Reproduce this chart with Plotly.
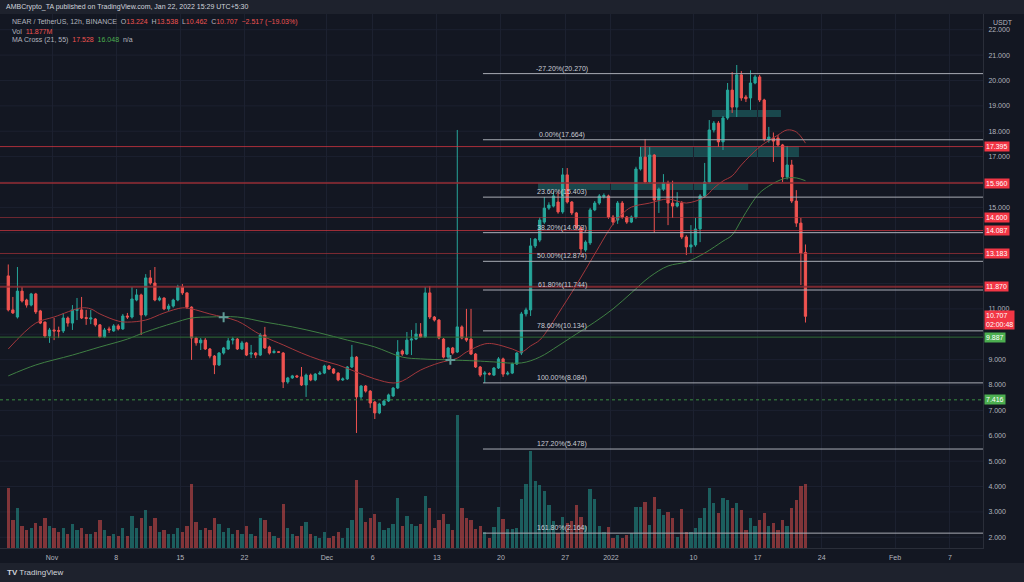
import pandas as pd
import plotly.graph_objects as go

# ---------------- data ----------------
candle_start = "2021-10-27 05:30"
candle_count = 175

opens = [12.30, 10.96, 10.68, 11.70, 11.35, 11.15, 11.59, 10.92, 10.48, 9.93,
         10.17, 10.15, 10.13, 10.64, 10.44, 10.94, 10.96, 10.66, 10.60, 10.60,
         10.37, 9.89, 10.21, 10.13, 10.33, 10.21, 10.72, 10.68, 11.35, 11.55,
         10.76, 12.22, 12.02, 11.35, 11.43, 11.00, 11.11, 11.35, 11.86, 11.63,
         11.07, 9.85, 9.66, 9.77, 9.42, 9.14, 8.79, 9.26, 9.42, 9.77,
         9.81, 9.42, 9.66, 9.22, 9.26, 9.18, 9.97, 9.50, 9.28, 9.31,
         9.26, 8.12, 8.28, 8.36, 8.32, 8.00, 8.39, 8.20, 8.43, 8.47,
         8.75, 8.63, 8.47, 8.20, 8.24, 8.71, 9.10, 7.53, 7.96, 7.76,
         7.33, 6.90, 7.21, 7.37, 7.57, 7.88, 9.34, 9.22, 9.77, 9.81,
         10.01, 9.89, 11.63, 10.68, 10.56, 9.81, 9.10, 9.46, 9.30, 10.29,
         9.85, 9.81, 9.22, 8.71, 8.43, 8.45, 8.39, 8.67, 9.03, 8.43,
         8.47, 8.83, 9.26, 10.80, 10.96, 13.48, 13.71, 14.42, 14.97, 15.05,
         15.21, 14.82, 16.28, 15.21, 14.78, 14.19, 13.32, 13.60, 14.90, 15.17,
         15.42, 15.45, 14.62, 14.50, 15.17, 14.62, 14.42, 14.62, 16.51, 16.98,
         16.00, 17.06, 15.29, 15.72, 15.96, 15.17, 15.05, 15.17, 13.83, 13.44,
         13.52, 14.15, 15.45, 16.00, 18.05, 18.32, 17.58, 18.52, 19.62, 18.95,
         20.22, 19.35, 19.31, 19.90, 20.14, 19.23, 17.65, 17.73, 17.73, 17.46,
         16.20, 16.67, 15.25, 14.38, 13.224]
highs = [12.75, 11.47, 12.65, 11.86, 11.40, 11.63, 11.63, 10.96, 10.50, 10.25,
         10.64, 10.30, 10.84, 10.70, 11.15, 11.43, 11.47, 10.96, 10.96, 10.64,
         10.40, 10.25, 10.30, 10.40, 10.40, 10.80, 10.84, 11.86, 11.78, 11.60,
         12.37, 12.53, 12.65, 11.50, 11.45, 11.20, 11.40, 11.95, 11.98, 11.65,
         11.10, 9.90, 9.85, 9.85, 9.46, 9.18, 9.30, 9.50, 9.85, 9.90,
         9.85, 9.74, 9.70, 9.58, 9.30, 10.05, 10.29, 9.55, 9.40, 9.34,
         9.30, 8.32, 8.40, 8.40, 8.71, 8.45, 8.45, 8.47, 8.55, 8.80,
         8.79, 8.67, 8.50, 8.30, 8.75, 9.58, 9.14, 8.00, 8.00, 7.80,
         7.37, 7.30, 7.42, 7.66, 7.92, 9.77, 9.40, 10.09, 10.17, 10.44,
         10.44, 11.86, 11.90, 10.72, 10.60, 9.85, 9.50, 9.50, 18.05, 10.35,
         11.00, 11.00, 9.26, 8.75, 8.55, 8.50, 8.71, 9.10, 9.08, 8.55,
         8.88, 9.30, 10.88, 11.05, 13.79, 13.79, 14.60, 15.41, 15.20, 15.64,
         15.60, 16.55, 16.55, 15.25, 14.82, 14.25, 13.70, 14.98, 15.25, 15.52,
         15.55, 15.50, 14.70, 15.25, 15.25, 14.66, 14.68, 16.60, 17.38, 17.69,
         17.38, 17.10, 15.78, 16.31, 16.05, 16.05, 15.60, 15.25, 13.90, 14.30,
         14.58, 15.52, 16.75, 18.44, 18.40, 18.40, 18.60, 19.90, 20.33, 20.61,
         20.37, 19.43, 20.40, 20.22, 20.22, 19.28, 18.17, 17.95, 17.85, 17.50,
         17.42, 16.87, 15.68, 14.58, 13.538]
lows = [10.90, 10.80, 10.62, 11.25, 11.05, 11.10, 10.80, 10.40, 9.85, 9.66,
        9.77, 9.85, 10.05, 10.30, 10.17, 10.56, 10.60, 10.37, 10.40, 10.30,
        9.85, 9.85, 10.05, 10.10, 10.15, 10.17, 10.60, 10.62, 11.30, 9.97,
        10.70, 11.95, 11.30, 11.30, 10.95, 10.92, 11.05, 11.30, 11.55, 11.00,
        8.99, 9.55, 9.38, 9.38, 9.05, 8.43, 8.75, 9.20, 9.38, 9.60,
        9.38, 9.38, 9.14, 9.06, 9.06, 9.14, 9.42, 9.20, 9.24, 9.26,
        7.88, 8.05, 8.24, 8.28, 7.96, 7.53, 8.15, 8.15, 8.40, 8.43,
        8.59, 8.43, 8.15, 8.16, 8.20, 8.67, 6.11, 7.45, 7.70, 7.10,
        6.66, 6.85, 7.18, 7.33, 7.53, 7.84, 9.15, 9.18, 9.18, 9.77,
        9.85, 9.85, 10.60, 10.50, 9.80, 9.05, 9.00, 9.20, 9.26, 9.80,
        9.70, 9.18, 8.67, 8.32, 8.08, 8.38, 8.36, 8.63, 8.32, 8.38,
        8.43, 8.79, 9.18, 10.70, 10.72, 13.40, 13.63, 14.35, 14.90, 15.00,
        14.75, 14.75, 15.15, 14.70, 14.10, 13.12, 13.25, 13.52, 14.85, 15.10,
        15.35, 14.55, 14.30, 14.35, 14.55, 14.35, 14.38, 14.55, 16.45, 15.95,
        15.95, 13.99, 14.78, 15.65, 14.30, 14.58, 15.00, 13.75, 13.12, 13.20,
        13.45, 13.63, 15.40, 15.95, 17.95, 17.38, 17.26, 18.45, 18.72, 18.56,
        19.20, 19.15, 18.84, 19.85, 19.15, 17.60, 17.55, 16.79, 17.40, 16.00,
        16.10, 15.17, 14.23, 11.94, 10.462]
closes = [10.96, 10.84, 11.70, 11.31, 11.15, 11.59, 10.88, 10.44, 9.93, 10.17,
          10.13, 10.12, 10.64, 10.44, 10.96, 10.98, 10.64, 10.62, 10.64, 10.37,
          9.89, 10.17, 10.17, 10.33, 10.21, 10.72, 10.68, 11.39, 11.55, 10.76,
          12.22, 12.02, 11.35, 11.43, 11.00, 11.11, 11.35, 11.86, 11.63, 11.07,
          9.85, 9.66, 9.77, 9.42, 9.14, 8.79, 9.26, 9.46, 9.74, 9.81,
          9.42, 9.66, 9.18, 9.26, 9.18, 9.97, 9.46, 9.26, 9.32, 9.29,
          8.12, 8.28, 8.36, 8.32, 8.00, 8.39, 8.20, 8.43, 8.47, 8.75,
          8.63, 8.47, 8.20, 8.24, 8.71, 9.10, 7.53, 7.96, 7.76, 7.29,
          6.90, 7.25, 7.37, 7.61, 7.88, 9.30, 9.22, 9.77, 9.81, 10.01,
          9.89, 11.63, 10.68, 10.56, 9.85, 9.10, 9.46, 9.26, 10.29, 9.85,
          9.77, 9.22, 8.71, 8.39, 8.47, 8.43, 8.67, 9.03, 8.43, 8.47,
          8.83, 9.26, 10.80, 10.96, 13.48, 13.75, 14.50, 14.97, 15.09, 15.45,
          14.82, 16.28, 15.21, 14.78, 14.19, 13.36, 13.63, 14.90, 15.17, 15.45,
          15.47, 14.62, 14.42, 15.17, 14.62, 14.42, 14.62, 16.51, 16.98, 16.00,
          17.06, 15.29, 15.72, 15.96, 15.17, 15.05, 15.17, 13.83, 13.44, 13.52,
          14.15, 15.45, 16.00, 18.05, 18.32, 17.58, 18.52, 19.62, 18.95, 20.22,
          19.31, 19.28, 19.90, 20.14, 19.23, 17.69, 17.77, 17.61, 17.46, 16.20,
          16.67, 15.25, 14.38, 13.20, 10.707]
volumes_m = [11.1, 5.2, 7.4, 4.1, 3.3, 3.7, 4.6, 4.1, 5.6, 4.1,
             3.7, 3.0, 3.7, 2.6, 4.5, 3.3, 3.7, 2.6, 2.6, 3.0,
             5.2, 3.3, 2.2, 2.6, 2.2, 3.7, 2.2, 5.9, 3.7, 5.6,
             7.1, 4.1, 5.6, 3.0, 3.3, 2.6, 2.6, 3.7, 3.0, 4.1,
             11.9, 4.8, 3.3, 3.7, 3.3, 5.6, 4.5, 3.0, 3.7, 2.6,
             3.3, 2.6, 4.1, 2.6, 2.2, 5.6, 5.2, 3.0, 2.2, 1.9,
             8.2, 3.7, 2.6, 2.2, 4.1, 4.8, 2.6, 2.2, 1.9, 3.0,
             1.9, 2.2, 3.0, 1.9, 3.7, 5.2, 12.6, 7.4, 4.8, 5.6,
             6.3, 4.8, 3.3, 3.7, 4.5, 9.3, 4.1, 5.9, 4.5, 4.1,
             4.5, 9.7, 7.4, 3.7, 5.2, 6.3, 4.5, 3.3, 24.7, 7.4,
             5.6, 5.2, 3.5, 4.1, 3.0, 1.9, 3.9, 7.6, 5.4, 3.5,
             3.5, 3.7, 9.1, 11.9, 18.0, 12.4, 11.7, 10.6, 8.0, 5.0,
             2.8, 5.8, 4.6, 5.0, 8.0, 5.8, 4.1, 11.0, 9.1, 4.1,
             3.0, 3.9, 1.9, 2.4, 1.9, 2.4, 2.8, 7.6, 7.6, 8.5,
             4.3, 9.5, 7.2, 6.1, 6.7, 5.6, 2.0, 7.2, 3.0, 3.0,
             3.7, 5.6, 7.4, 11.1, 8.4, 6.5, 9.3, 8.9, 7.4, 8.4,
             7.1, 3.3, 5.6, 4.1, 5.2, 6.5, 4.1, 4.6, 3.3, 5.2,
             4.1, 7.4, 8.9, 11.5, 11.877]

ma21_idx = [0, 6, 10, 16, 18, 20, 24, 26, 30, 34, 38, 40, 44, 50, 54, 56, 60, 64,
            68, 72, 76, 80, 84, 86, 90, 94, 98, 100, 104, 106, 110, 112, 114, 116,
            118, 120, 124, 128, 132, 134, 136, 140, 144, 148, 152, 154, 156, 158,
            160, 164, 168, 170, 172, 174]
ma21_vals = [9.42, 10.44, 10.68, 11.04, 11.00, 10.80, 10.52, 10.48, 10.56, 10.84,
             11.04, 11.00, 10.80, 10.52, 10.09, 9.89, 9.58, 9.26, 8.99, 8.79,
             8.51, 8.24, 8.08, 8.16, 8.59, 8.87, 9.06, 9.30, 9.62, 9.62,
             9.42, 9.30, 9.54, 9.77, 10.24, 10.80, 11.94, 13.16, 14.34, 14.74,
             15.01, 15.17, 15.33, 15.17, 15.41, 15.76, 16.04, 16.24, 16.67, 17.38,
             17.85, 18.05, 17.97, 17.53]
ma55_idx = [0, 6, 14, 20, 26, 30, 36, 40, 44, 50, 56, 62, 68, 74, 80, 86, 90, 96,
            102, 106, 112, 116, 120, 124, 128, 132, 136, 140, 144, 148, 152, 156,
            158, 160, 162, 164, 166, 168, 170, 172, 174]
ma55_vals = [8.36, 8.79, 9.18, 9.50, 9.81, 10.09, 10.44, 10.64, 10.68, 10.68,
             10.48, 10.29, 10.05, 9.77, 9.50, 9.10, 9.03, 8.99, 8.95, 8.91,
             8.87, 9.10, 9.54, 10.01, 10.48, 11.00, 11.63, 12.26, 12.69, 12.85,
             13.20, 13.67, 13.91, 14.50, 15.09, 15.57, 15.84, 16.04, 16.16, 16.16,
             16.05]
cross_dates = ["2021-11-19 17:30", "2021-12-14 11:30"]
cross_vals = [10.67, 8.99]

red_levels = [17.395, 15.960, 14.600, 14.087, 13.183, 11.870]
green_levels = [9.887, 7.416]

fib_start = "2021-12-18 00:50"
fib_label_date = "2021-12-26 16:00"
fib_pct = ["-27.20%", "0.00%", "23.60%", "38.20%", "50.00%", "61.80%",
           "78.60%", "100.00%", "127.20%", "161.80%"]
fib_vals = [20.270, 17.664, 15.403, 14.003, 12.874, 11.744, 10.134, 8.084, 5.478, 2.164]

zone_x0 = ["2021-12-24 01:00", "2022-01-04 04:00", "2022-01-12 00:30"]
zone_x1 = ["2022-01-15 23:30", "2022-01-21 12:30", "2022-01-19 13:30"]
zone_y0 = [15.68, 16.98, 18.56]
zone_y1 = [15.96, 17.395, 18.84]

tick_dates = ["2021-11-01", "2021-11-08", "2021-11-15", "2021-11-22", "2021-12-01",
              "2021-12-06", "2021-12-13", "2021-12-20", "2021-12-27", "2022-01-01",
              "2022-01-10", "2022-01-17", "2022-01-24", "2022-02-01", "2022-02-07"]
tick_text = ["Nov", "8", "15", "22", "Dec", "6", "13", "20", "27", "2022",
             "10", "17", "24", "Feb", "7"]
# price ticks that are not hidden behind the price labels
price_ticks = [2, 3, 4, 5, 6, 7, 8, 9, 11, 15, 17, 18, 19, 20, 21, 22]
grid_prices = list(range(2, 23))

x_range = ["2021-10-26 07:48", "2022-02-10 14:30"]
y_range = [1.578, 22.619]
vol_range = [0, 99.1]

# ---------------- layout constants ----------------
W, H = 1024, 582
PL, PR, PT, PB = 0, 983, 14, 548
BG = "#131722"
BAND = "#1e222d"
TXT = "#b2b5be"
UP = "#26a69a"
DOWN = "#ef5350"
FONT = "Liberation Sans"
GRID = "#1c2130"


def px_x(px):
    return (px - PL) / (PR - PL)


def px_y(py):
    return (PB - py) / (PB - PT)


dates = pd.date_range(candle_start, periods=candle_count, freq="12h")

fig = go.Figure()

vol_colors = ["rgba(38,166,154,0.5)" if c >= o else "rgba(239,83,80,0.5)"
              for o, c in zip(opens, closes)]
fig.add_trace(go.Bar(x=dates, y=volumes_m, marker_color=vol_colors,
                     marker_line_width=0, width=12 * 3600 * 1000 * 0.72,
                     yaxis="y2", hoverinfo="skip", showlegend=False))

fig.add_trace(go.Scatter(x=dates[ma55_idx], y=ma55_vals, mode="lines",
                         line=dict(color="#3f7f43", width=1, shape="spline"),
                         showlegend=False, hoverinfo="skip"))
fig.add_trace(go.Scatter(x=dates[ma21_idx], y=ma21_vals, mode="lines",
                         line=dict(color="#a3373c", width=1, shape="spline"),
                         showlegend=False, hoverinfo="skip"))

fig.add_trace(go.Candlestick(
    x=dates, open=opens, high=highs, low=lows, close=closes,
    increasing=dict(line=dict(color=UP, width=1), fillcolor=UP),
    decreasing=dict(line=dict(color=DOWN, width=1), fillcolor=DOWN),
    whiskerwidth=0, showlegend=False, hoverinfo="skip"))

fig.add_trace(go.Scatter(x=cross_dates, y=cross_vals, mode="markers",
                         marker=dict(symbol="cross-thin", size=7,
                                     line=dict(color="#5f9c97", width=2)),
                         showlegend=False, hoverinfo="skip"))

shapes = []
# header & footer bands
shapes.append(dict(type="rect", xref="paper", yref="paper", x0=px_x(0), x1=px_x(W),
                   y0=px_y(PT), y1=px_y(0), fillcolor=BAND, line_width=0, layer="below"))
shapes.append(dict(type="rect", xref="paper", yref="paper", x0=px_x(0), x1=px_x(W),
                   y0=px_y(H), y1=px_y(563), fillcolor=BAND, line_width=0, layer="below"))
# horizontal grid on every price unit (incl. hidden tick labels)
for g in grid_prices:
    shapes.append(dict(type="line", xref="paper", yref="y", x0=0, x1=1, y0=g, y1=g,
                       line=dict(color=GRID, width=1), layer="below"))
# zones
for a, b, c, d in zip(zone_x0, zone_x1, zone_y0, zone_y1):
    shapes.append(dict(type="rect", xref="x", yref="y", x0=a, x1=b, y0=c, y1=d,
                       fillcolor="rgba(38,150,145,0.38)", line_width=0, layer="below"))
# red levels
red_w = [1, 2, 1, 1, 1, 2]
red_c = ["rgba(220,55,65,0.75)", "rgba(150,45,52,0.75)", "rgba(170,50,58,0.6)",
         "rgba(220,55,65,0.7)", "rgba(170,50,58,0.7)", "rgba(150,45,52,0.8)"]
for v, w, c in zip(red_levels, red_w, red_c):
    shapes.append(dict(type="line", xref="paper", yref="y", x0=0, x1=1, y0=v, y1=v,
                       line=dict(color=c, width=w), layer="above"))
# green levels
shapes.append(dict(type="line", xref="paper", yref="y", x0=0, x1=1,
                   y0=green_levels[0], y1=green_levels[0],
                   line=dict(color="#2f6b35", width=1), layer="above"))
shapes.append(dict(type="line", xref="paper", yref="y", x0=0, x1=1,
                   y0=green_levels[1], y1=green_levels[1],
                   line=dict(color="#3b8c42", width=1, dash="dot"), layer="above"))
# fib lines
for v in fib_vals:
    shapes.append(dict(type="line", xref="x", yref="y", x0=fib_start, x1=x_range[1],
                       y0=v, y1=v, line=dict(color="#a9acb5", width=1), layer="above"))

annotations = []
for p, v in zip(fib_pct, fib_vals):
    annotations.append(dict(x=fib_label_date, y=v, xref="x", yref="y",
                            text=f"{p}({v:.3f})", showarrow=False,
                            yanchor="middle", xanchor="center", yshift=5,
                            font=dict(family=FONT, size=7, color="#c9ccd4")))

# right axis price labels
for v in red_levels:
    annotations.append(dict(x=1, y=v, xref="paper", yref="y", text=f"{v:.3f}",
                            showarrow=False, xanchor="left", yanchor="middle",
                            bgcolor="#f23645", borderpad=1, xshift=1,
                            font=dict(family=FONT, size=7, color="#ffffff")))
for v in green_levels:
    annotations.append(dict(x=1, y=v, xref="paper", yref="y", text=f"{v:.3f}",
                            showarrow=False, xanchor="left", yanchor="middle",
                            bgcolor="#4caf50", borderpad=1, xshift=1,
                            font=dict(family=FONT, size=7, color="#ffffff")))
annotations.append(dict(x=1, y=closes[-1], xref="paper", yref="y",
                        text=f"{closes[-1]:.3f}<br>02:00:48", showarrow=False,
                        xanchor="left", yanchor="middle", yshift=-4, align="left",
                        bgcolor="#f23645", borderpad=1, xshift=1,
                        font=dict(family=FONT, size=7, color="#ffffff")))
annotations.append(dict(x=px_x(1003), y=px_y(22.0), xref="paper", yref="paper",
                        text="USDT", showarrow=False, xanchor="center", yanchor="middle",
                        font=dict(family=FONT, size=7, color=TXT)))

# header texts
annotations.append(dict(x=px_x(4), y=px_y(7), xref="paper", yref="paper",
                        text="AMBCrypto_TA published on TradingView.com, Jan 22, 2022 15:29 UTC+5:30",
                        showarrow=False, xanchor="left", yanchor="middle",
                        font=dict(family=FONT, size=7, color="#d1d4dc")))
red = DOWN
grn = "#4caf50"
legend1 = (f"NEAR / TetherUS, 12h, BINANCE  O<span style='color:{red}'>13.224</span>  "
           f"H<span style='color:{red}'>13.538</span>  L<span style='color:{red}'>10.462</span>  "
           f"C<span style='color:{red}'>10.707</span>  <span style='color:{red}'>−2.517 (−19.03%)</span>")
legend2 = f"Vol  <span style='color:{red}'>11.877M</span>"
legend3 = (f"MA Cross (21, 55)  <span style='color:{red}'>17.528</span>  "
           f"<span style='color:{grn}'>16.048</span>  n/a")
for txt, yy in [(legend1, 22.5), (legend2, 31.5), (legend3, 40.5)]:
    annotations.append(dict(x=px_x(10), y=px_y(yy), xref="paper", yref="paper",
                            text=txt, showarrow=False, xanchor="left", yanchor="middle",
                            font=dict(family=FONT, size=7, color=TXT)))
# footer logo text
annotations.append(dict(x=px_x(5), y=px_y(572), xref="paper", yref="paper",
                        text="<b>TV</b> TradingView", showarrow=False, xanchor="left",
                        yanchor="middle", font=dict(family=FONT, size=8, color="#d1d4dc")))

fig.update_layout(
    width=W, height=H,
    margin=dict(l=PL, r=W - PR, t=PT, b=H - PB, pad=0),
    paper_bgcolor=BG, plot_bgcolor=BG,
    showlegend=False, bargap=0,
    shapes=shapes, annotations=annotations,
    xaxis=dict(type="date", range=x_range, rangeslider=dict(visible=False),
               tickmode="array", tickvals=tick_dates, ticktext=tick_text,
               showgrid=True, gridcolor=GRID, gridwidth=1,
               showline=True, linecolor="#2a2e39", linewidth=1, mirror=False,
               ticks="outside", ticklen=3, tickcolor=BG, zeroline=False,
               tickfont=dict(family=FONT, size=7, color=TXT)),
    yaxis=dict(range=y_range, side="right", tickmode="array", tickvals=price_ticks,
               tickformat=".3f", showgrid=False,
               showline=True, linecolor="#2a2e39", linewidth=1, zeroline=False,
               ticks="outside", ticklen=3, tickcolor=BG,
               tickfont=dict(family=FONT, size=7, color=TXT)),
    yaxis2=dict(range=vol_range, overlaying="y", visible=False, fixedrange=True),
)

fig.write_html("out.html")
